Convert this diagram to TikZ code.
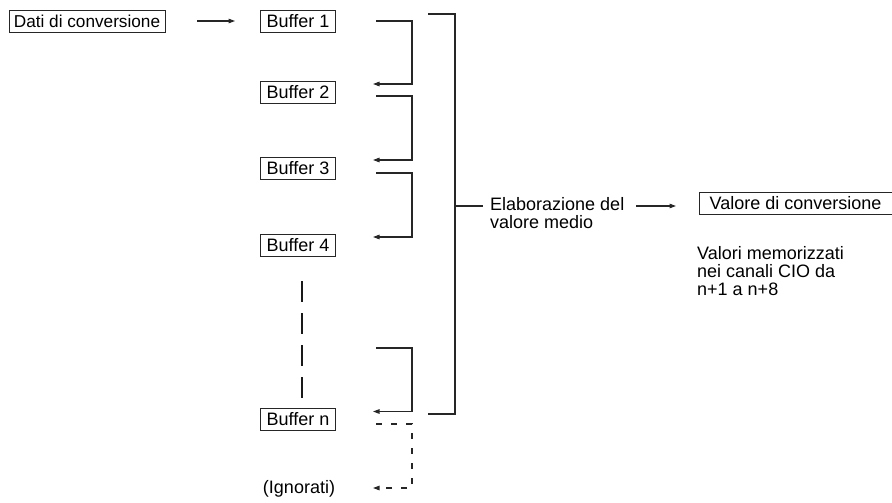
\documentclass[tikz,border=0pt]{standalone}
\usepackage{fontspec}
\setmainfont{Liberation Sans}
\usetikzlibrary{arrows.meta,calc}
\tikzset{
  fnt/.style={font=\fontsize{18}{17.8}\selectfont},
  box/.style={draw=black!85, line width=0.9pt, inner sep=0pt, minimum height=22pt, fnt},
  buf/.style={box, minimum width=75pt},
  txt/.style={inner sep=0pt, fnt, align=left},
  ln/.style={line width=1.1pt, draw=black!85},
  tip/.style={-{Triangle[length=6.5pt,width=4.5pt]}},
  arr/.style={ln, tip},
  dsh/.style={ln, tip, dash pattern=on 6pt off 9pt},
  vdots/.style={line width=2.7pt, draw=black!90, dash pattern=on 21pt off 11pt}
}
\begin{document}
\begin{tikzpicture}[x=1pt,y=-1pt]
\useasboundingbox (0,0) rectangle (892,503);
% boxes
\node[box, minimum width=156pt, font=\fontsize{17.2}{18}\selectfont] (dati) at (87,21) {Dati di conversione};
\node[buf] (b1) at (298,21) {Buffer 1};
\node[buf] (b2) at (298,92) {Buffer 2};
\node[buf] (b3) at (298,168) {Buffer 3};
\node[buf] (b4) at (298,245.5) {Buffer 4};
\node[buf] (bn) at (298,419) {Buffer n};
\node[txt] (ign) at (299,489) {(Ignorati)};
\node[txt, anchor=north west] (elab) at (490,197) {Elaborazione del\\valore medio};
\node[box, minimum width=193pt] (val) at (795.5,203.5) {Valore di conversione};
\node[txt, anchor=north west] (mem) at (697,246.5) {Valori memorizzati\\nei canali CIO da\\n+1 a n+8};
% input arrow
\draw[arr, shorten <=32pt, shorten >=25pt] (dati) -- (b1);
% small brackets
\coordinate (s1) at (376,21);  \coordinate (c1) at (412,84);    \coordinate (t1) at (373,84);
\coordinate (s2) at (376,96);  \coordinate (c2) at (412,160);   \coordinate (t2) at (373,160);
\coordinate (s3) at (376,173); \coordinate (c3) at (412,237);   \coordinate (t3) at (373,237);
\coordinate (sn) at (376,348); \coordinate (cn) at (412,411.5); \coordinate (tn) at (373,411.5);
\coordinate (sd) at (376,424); \coordinate (cd) at (412,488);   \coordinate (td) at (373,488);
\draw[arr] (s1) -| (c1) -- (t1);
\draw[arr] (s2) -| (c2) -- (t2);
\draw[arr] (s3) -| (c3) -- (t3);
\draw[arr] (sn) -| (cn) -- (tn);
\draw[dsh] (sd) -| (cd) -- (td);
% big bracket
\coordinate (g1) at (428,14); \coordinate (g2) at (455,14);
\coordinate (g3) at (455,414); \coordinate (g4) at (428,414);
\coordinate (gm) at (455,206); \coordinate (gt) at (483,206);
\draw[ln] (g1) -- (g2) -- (g3) -- (g4);
\draw[ln] (gm) -- (gt);
% output arrow
\coordinate (ea) at (636,206); \coordinate (eb) at (676,206);
\draw[arr] (ea) -- (eb);
% vertical dashes
\coordinate (d1) at (302,281); \coordinate (d2) at (302,398);
\draw[vdots] (d1) -- (d2);
\end{tikzpicture}
\end{document}
